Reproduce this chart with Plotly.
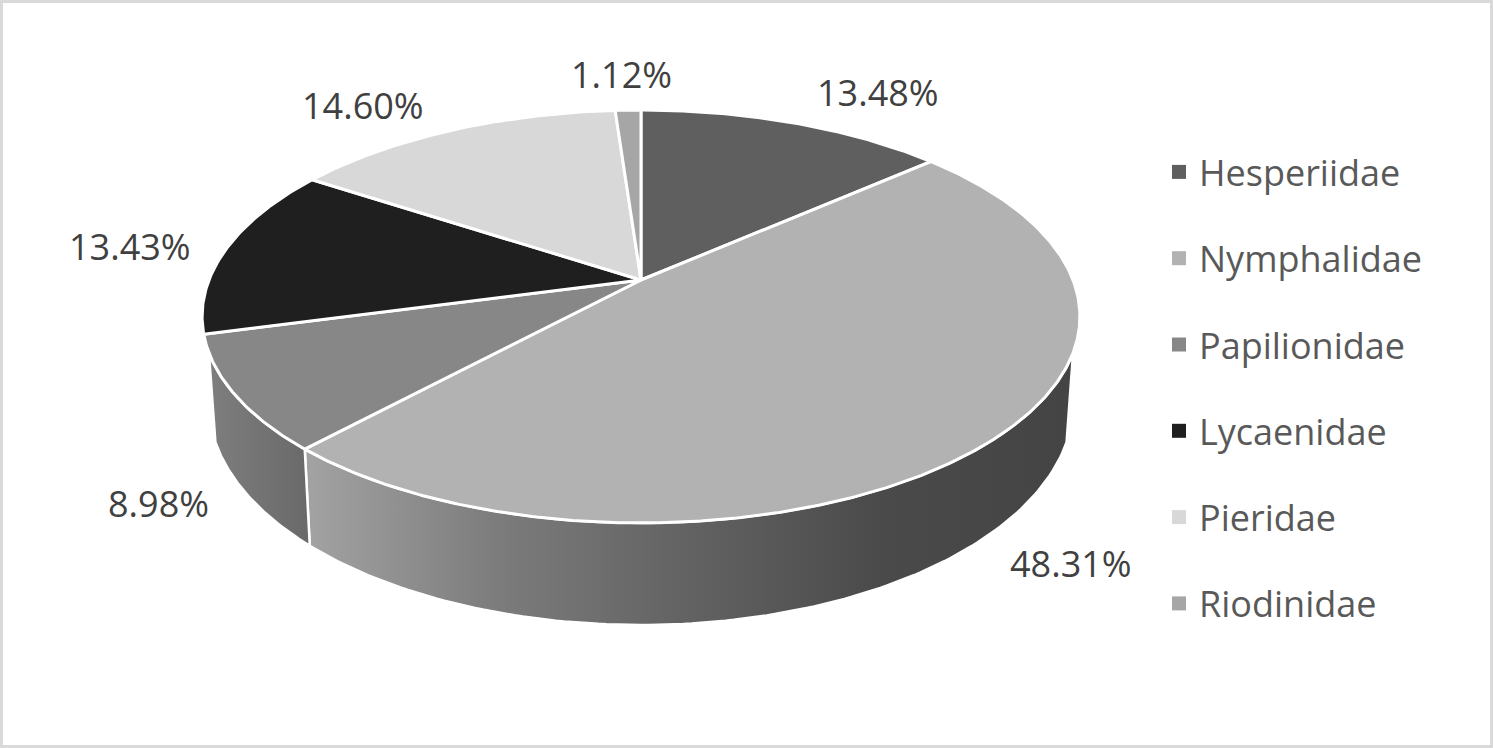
import numpy as np
import plotly.graph_objects as go

# butterfly families and their share of the records (%)
families = ["Hesperiidae", "Nymphalidae", "Papilionidae", "Lycaenidae", "Pieridae", "Riodinidae"]
shares = [13.48, 48.31, 8.98, 13.43, 14.60, 1.12]

top_colors = ["#5f5f5f", "#b2b2b2", "#878787", "#1f1f1f", "#d8d8d8", "#a6a6a6"]
# shading of each slice's wall, left -> right
side_colors = [
    ["#5a5a5a", "#3a3a3a"],
    ["#a3a3a3", "#7c7c7c", "#626262", "#4a4a4a", "#444444"],
    ["#7e7e7e", "#696969"],
    ["#262626", "#141414"],
    ["#cfcfcf", "#9a9a9a"],
    ["#a0a0a0", "#707070"],
]

W, H = 1493, 748
FONT = "Open Sans"
CX, CY = 641, 280            # centre of the pie top (px)
RX, RY, PERSP = 432, 200, 0.1767
DEPTH, SHRINK = 84, 0.985
WALL_EDGE = np.radians(110)  # where the wall turns out of sight


def project(theta, z=0.0, r=1.0):
    """tilted / perspective view of a point on the pie rim (z=1 is the bottom)"""
    u = r * np.sin(theta)
    v = r * np.cos(theta)
    w = 1 + PERSP * v
    x = CX + RX * u * (1 - (1 - SHRINK) * z) / w
    y = CY - RY * v / w + DEPTH * z / w
    return x, y


def text_half_size(txt, size):
    widths = {".": 0.267, "%": 0.836}
    em = sum(widths.get(ch, 0.572) for ch in txt)
    return em * size / 2, 0.48 * size


total = sum(shares)
edges = np.concatenate([[0], np.cumsum(shares)]) / total * 2 * np.pi

fig = go.Figure()

# walls first, the top faces are laid over them
for i, fam in enumerate(families):
    lo = max(edges[i], WALL_EDGE)
    hi = min(edges[i + 1], 2 * np.pi - WALL_EDGE)
    if lo >= hi:
        continue
    t = np.linspace(lo, hi, 120)
    tx, ty = project(t, 0)
    bx, by = project(t[::-1], 1)
    xs = np.concatenate([tx, bx, tx[:1]])
    ys = np.concatenate([ty, by, ty[:1]])
    cols = side_colors[i]
    scale = [[k / (len(cols) - 1), c] for k, c in enumerate(cols)]
    fig.add_trace(go.Scatter(
        x=xs, y=ys, mode="lines", fill="toself",
        fillgradient=dict(type="horizontal", colorscale=scale,
                          start=float(xs.min()), stop=float(xs.max())),
        line=dict(color="white", width=2.5),
        hoverinfo="skip", showlegend=False,
    ))

for i, fam in enumerate(families):
    n = max(4, int(np.degrees(edges[i + 1] - edges[i]) * 2))
    t = np.linspace(edges[i], edges[i + 1], n)
    px, py = project(t, 0)
    fig.add_trace(go.Scatter(
        x=np.concatenate([[CX], px, [CX]]),
        y=np.concatenate([[CY], py, [CY]]),
        mode="lines", fill="toself", fillcolor=top_colors[i],
        line=dict(color="white", width=3),
        name=fam, hoverinfo="name", showlegend=False,
    ))

# data labels outside the rim
GAPX, GAPY = 35, 18
annotations = []
for i, fam in enumerate(families):
    mid = (edges[i] + edges[i + 1]) / 2
    in_front = WALL_EDGE <= mid <= 2 * np.pi - WALL_EDGE
    rx, ry = project(mid, 1 if in_front else 0)
    dx, dy = rx - CX, ry - CY
    norm = np.hypot(dx, dy)
    dx, dy = dx / norm, dy / norm
    m = max(abs(dx), abs(dy))
    txt = f"{shares[i]:.2f}%"
    hw, hh = text_half_size(txt, 36)
    lx = rx + hw * dx / m + GAPX * dx
    ly = ry + hh * dy / m + GAPY * dy
    annotations.append(dict(
        x=lx, y=ly, xref="x", yref="y", text=txt, showarrow=False,
        xanchor="center", yanchor="middle",
        font=dict(family=FONT, size=36, color="#404040"),
    ))

# legend entries
for i, fam in enumerate(families):
    fig.add_trace(go.Scatter(
        x=[None], y=[None], mode="markers", name=fam, legendgroup=fam,
        marker=dict(symbol="square", size=14, color=top_colors[i]),
    ))

fig.update_layout(
    width=W, height=H,
    margin=dict(l=0, r=0, t=0, b=0),
    paper_bgcolor="white", plot_bgcolor="white",
    xaxis=dict(range=[0, W], visible=False, fixedrange=True),
    yaxis=dict(range=[H, 0], visible=False, fixedrange=True),
    annotations=annotations,
    showlegend=True,
    legend=dict(
        x=1159 / W, y=1 - 142 / H, xanchor="left", yanchor="top",
        font=dict(family=FONT, size=36, color="#595959"),
        tracegroupgap=36.5, bgcolor="rgba(0,0,0,0)",
    ),
    shapes=[dict(type="rect", xref="paper", yref="paper",
                 x0=1.5 / W, x1=1 - 1.5 / W, y0=1.5 / H, y1=1 - 1.5 / H,
                 line=dict(color="#d9d9d9", width=3))],
)

# drop the page's default body margin so the figure fills the window
fig.write_html("out.html", config={"displayModeBar": False},
               post_script="document.body.style.margin = '0';")
